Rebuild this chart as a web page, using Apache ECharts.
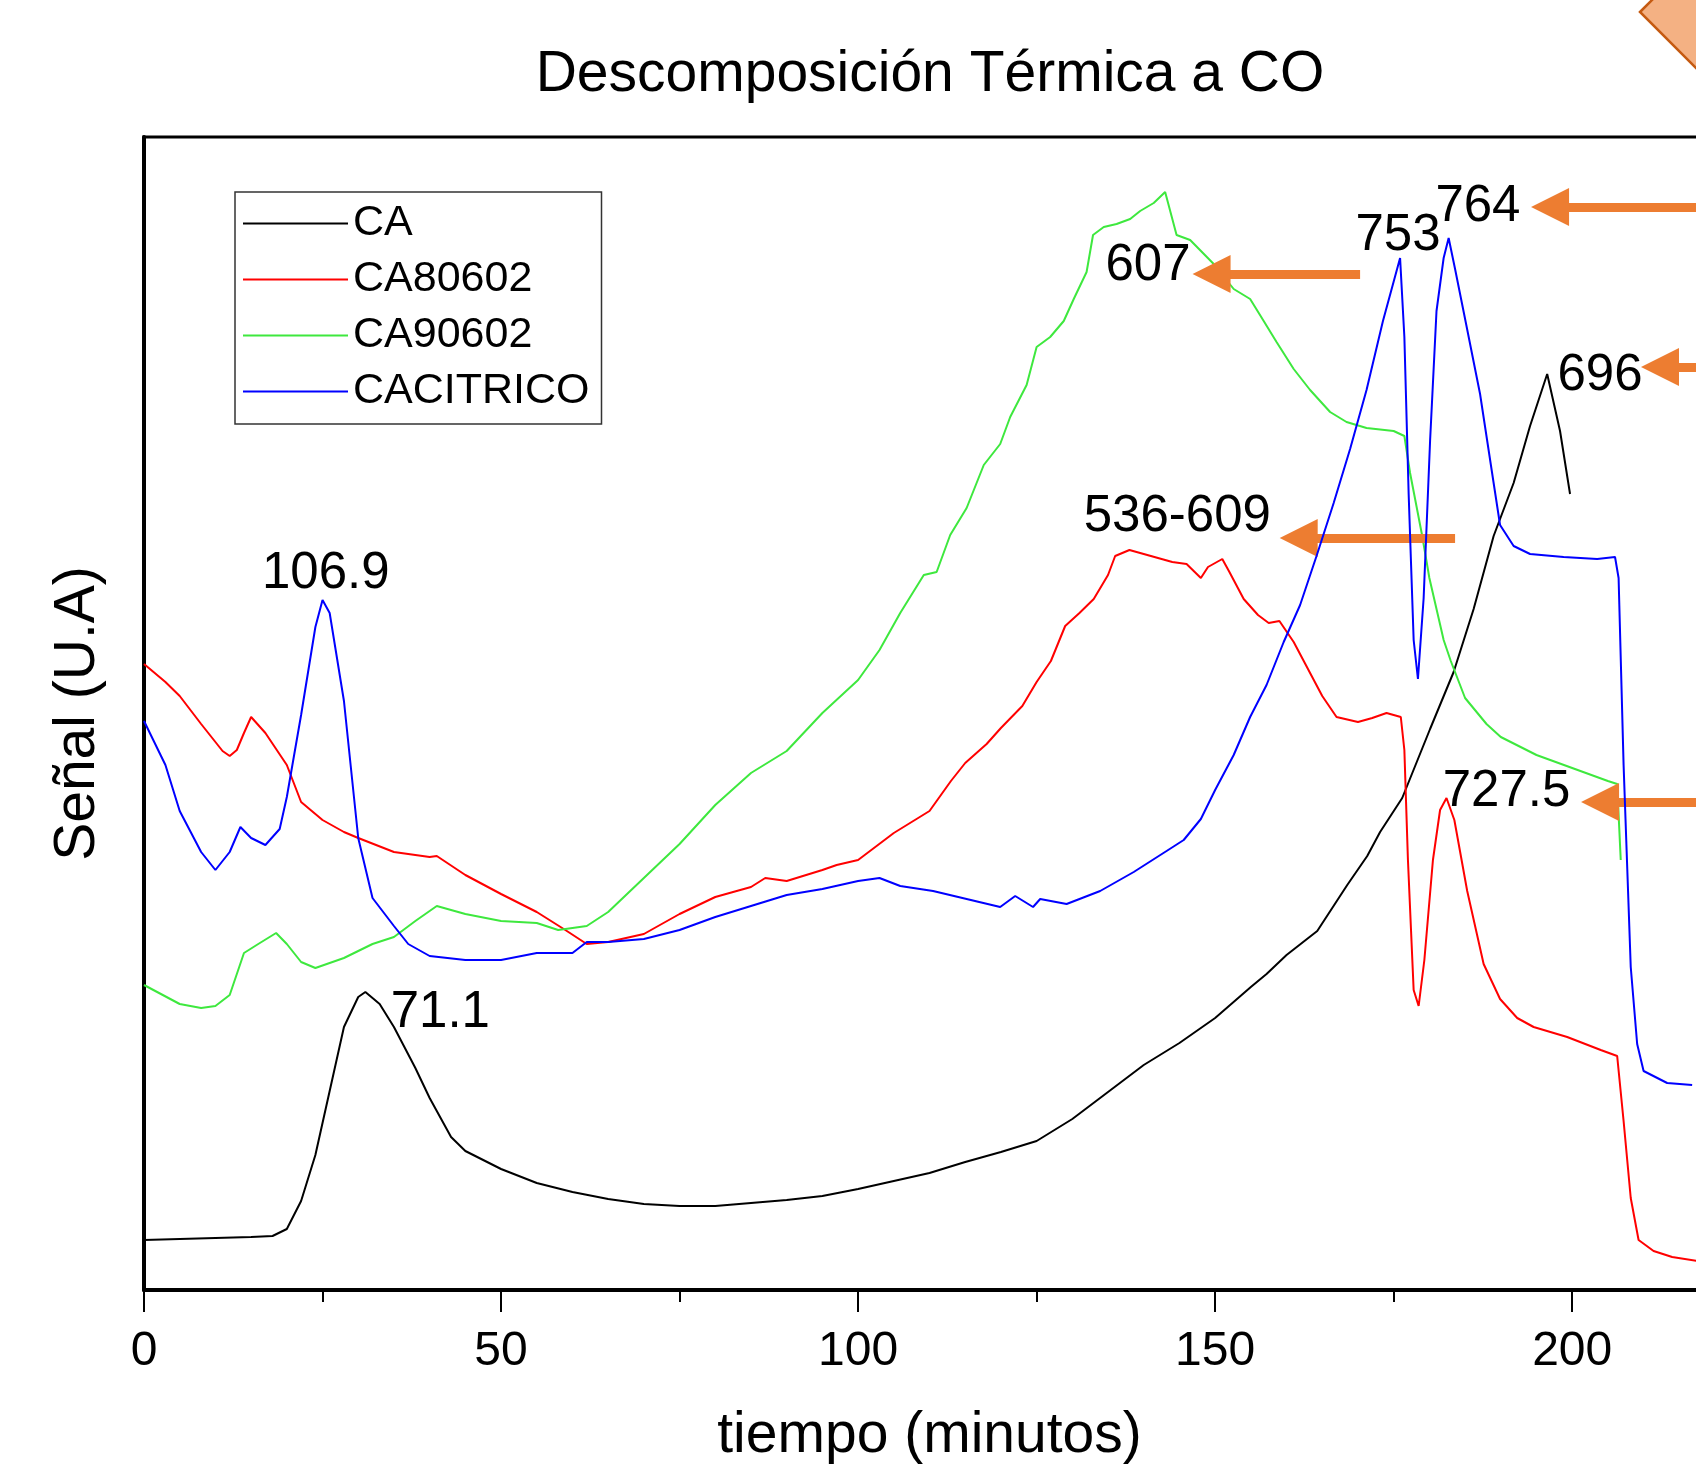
<!DOCTYPE html>
<html>
<head>
<meta charset="utf-8">
<script src="https://cdn.jsdelivr.net/npm/echarts@6/dist/echarts.min.js"></script>
<style>
html,body{margin:0;padding:0;background:#fff;}
#chart{width:1696px;height:1470px;}
</style>
</head>
<body>
<div id="chart"></div>
<script>
// ---- data (x: minutes, y: arbitrary signal units) ----
const seriesNames = ['CA', 'CA80602', 'CA90602', 'CACITRICO'];
const seriesColors = ['#000000', '#ff0000', '#3ee83e', '#0000ff'];

const CA = [
  [0,50],[5,51],[10,52],[15,53],[18,54],[20,61],[22,89],[24,135],[26,199],[28,263],[30,293],[31,298],
  [33,286],[35,263],[38,222],[40,192],[43,153],[45,139],[50,121],[55,107],[60,98],[65,91],[70,86],
  [75,84],[80,84],[85,87],[90,90],[95,94],[100,101],[105,109],[110,117],[115,128],[120,138],[125,149],
  [130,171],[135,198],[140,225],[145,247],[150,272],[155,303],[157.2,316],[160,335],[164.3,359],
  [168.5,405],[171.3,434],[173.1,458],[176.2,492],[180.1,561],[183.4,618],[186.2,681],[189,754],
  [191.8,807],[194.1,864],[196.5,916],[198.3,859],[199.7,796]
];

const CA80602 = [
  [0,626],[3,608],[5,594],[8,566],[11,539],[12,534],[13,540],[14,557],[15,573],[17,557],[20,525],
  [22,488],[25,470],[28,458],[30,452],[35,438],[40,433],[41,434],[45,415],[50,396],[55,378],[59,360],
  [62,346],[65,348],[70,356],[75,376],[80,393],[85,403],[87,412],[90,409],[95,420],[97,425],[100,430],
  [105,457],[110,479],[113,509],[115,527],[118,546],[120,562],[123,584],[125,608],[127,629],[129,664],
  [131,677],[133,691],[135,715],[136,734],[138,740],[141,734],[144,728],[146,726],[148,712],[149,723],
  [151,731],[152,718],[154,691],[156,675],[157.5,667],[159,669],[161,648],[163,621],[165,594],[167,573],
  [170,568],[172,572],[174,577],[176,573],[176.5,540],[177,430],[177.8,300],[178.5,284],[179.3,330],
  [180.5,430],[181.5,480],[182.4,492],[183.5,470],[185.3,399],[187.6,326],[189.9,291],[192.3,272],
  [194.6,263],[199.3,253],[204,240],[206.3,234],[207.2,169],[208.2,92],[209.3,50],[211.4,39],[214,33],
  [217.5,29]
];

const CA90602 = [
  [0,305],[5,286],[8,282],[10,284],[12,295],[14,337],[16,346],[18.5,357],[20,346],[22,328],[24,322],
  [28,332],[32,346],[35,353],[38,369],[41,384],[45,376],[50,369],[55,367],[58,360],[62,364],[65,378],
  [70,412],[75,446],[80,485],[85,517],[90,539],[95,577],[100,610],[103,640],[105.9,677],[109.2,715],
  [111,718],[112.9,755],[115.2,782],[117.6,825],[119.9,846],[121.3,873],[123.6,905],[125,943],
  [126.9,953],[128.8,969],[130.2,991],[132,1018],[132.9,1055],[134.4,1063],[136.2,1066],[138.1,1071],
  [139.5,1079],[141.4,1087],[143,1098],[144.6,1055],[146.5,1050],[149.8,1026],[152.6,1001],[154.9,991],
  [156.8,969],[158.6,948],[161,921],[163.3,900],[166.1,878],[168.4,868],[171.2,862],[175,859],
  [176.5,854],[177.3,817],[179,754],[180,712],[182,650],[183,629],[185,592],[188,566],[190,553],
  [195,535],[200,522],[205,509],[206.3,506],[206.8,430]
];

const CACITRICO = [
  [0,569],[3,525],[5,479],[8,438],[10,420],[12,438],[13.5,463],[15,452],[17,445],[19,461],[20,493],
  [22,575],[24,663],[25,690],[26,677],[28,589],[30,452],[32,392],[35,364],[37,346],[40,334],[45,330],
  [50,330],[55,337],[60,337],[62,348],[65,348],[70,351],[75,360],[80,373],[85,384],[90,395],[95,401],
  [100,409],[103,412],[105.9,404],[110.5,399],[115.2,391],[119.9,383],[122,394],[124.5,383],[125.5,391],
  [129.2,386],[133.9,399],[138.6,418],[143.2,439],[145.6,450],[148,471],[150,500],[152.6,535],
  [154.9,573],[157.2,605],[159.6,648],[161.9,685],[164.2,734],[166.6,787],[168.9,841],[171.2,900],
  [173.5,969],[175.9,1032],[176.5,953],[177.1,796],[177.8,650],[178.4,611],[179.2,692],[180.1,849],
  [181,979],[182,1032],[182.7,1052],[183.6,1021],[185.2,964],[187.1,896],[189,807],[189.9,765],
  [191.8,744],[194.1,736],[198.8,733],[203.5,731],[206,733],[206.5,712],[207.2,525],[208.2,323],
  [209.1,246],[210,219],[213.3,207],[216.8,205]
];

// peak annotations: [text, x (min), y]
const annotations = [
  ['106.9', 25.45, 716],
  ['71.1', 41.5, 277],
  ['607', 140.6, 1024],
  ['536-609', 144.7, 773],
  ['753', 175.6, 1054],
  ['764', 186.8, 1083],
  ['696', 203.9, 914],
  ['727.5', 190.8, 498]
];

// orange arrows: [tip x, tail x, y]
const arrows = [
  [146.9, 170.3, 1016],
  [159.1, 183.6, 752],
  [194.3, 220, 1083],
  [209.7, 220, 923],
  [201.3, 220, 488]
];

const xTickLabels = [0, 50, 100, 150, 200];

// ---- chart ----
const FONT = '"Liberation Sans", Arial, sans-serif';
const chart = echarts.init(document.getElementById('chart'), null, {renderer: 'canvas'});
const dataBySeries = [CA, CA80602, CA90602, CACITRICO];
const HEAD = 2.6; // half arrow-head length in minutes

const lineSeries = seriesNames.map((n, i) => ({
  name: n,
  type: 'line',
  data: dataBySeries[i],
  showSymbol: false,
  symbol: 'none',
  lineStyle: {color: seriesColors[i], width: 2},
  itemStyle: {color: seriesColors[i]},
  z: 2 + i,
  silent: true
}));

lineSeries.push({
  name: 'flechas',
  type: 'line',
  data: [],
  silent: true,
  z: 10,
  markLine: {
    silent: true,
    symbol: ['triangle', 'none'],
    symbolSize: 38,
    label: {show: false},
    itemStyle: {color: '#ED7D31'},
    lineStyle: {color: '#ED7D31', width: 9, type: 'solid', opacity: 1},
    emphasis: {disabled: true},
    data: arrows.map(a => [{coord: [a[0] + HEAD, a[2]]}, {coord: [a[1], a[2]]}])
  }
});

lineSeries.push({
  name: 'anotaciones',
  type: 'scatter',
  symbolSize: 0,
  silent: true,
  z: 11,
  itemStyle: {color: '#000', opacity: 1},
  data: annotations.map(a => ({name: a[0], value: [a[1], a[2]]})),
  label: {
    show: true, position: 'inside', formatter: '{b}',
    fontSize: 51, color: '#000', textBorderWidth: 0, fontFamily: FONT
  }
});

const option = {
  animation: false,
  backgroundColor: '#fff',
  graphic: [
    {
      type: 'polygon', z: 100,
      shape: {points: [[1640, 12], [1720, -68], [1800, 12], [1720, 92]]},
      style: {fill: '#F4B183', stroke: '#C55A11', lineWidth: 2.5}
    },
    {
      type: 'text', x: 930, y: 75, z: 100,
      style: {
        text: 'Descomposición Térmica a CO', fontSize: 57, fontFamily: FONT,
        fill: '#000', textAlign: 'center', textVerticalAlign: 'middle'
      }
    }
  ],
  legend: {
    orient: 'vertical',
    left: 235, top: 192,
    padding: [10, 12, 11, 8],
    itemWidth: 105, itemHeight: 2, itemGap: 13,
    icon: 'rect',
    borderColor: '#333', borderWidth: 1.5,
    backgroundColor: '#fff',
    textStyle: {fontSize: 43, lineHeight: 42, color: '#000', fontFamily: FONT},
    data: seriesNames,
    selectedMode: false
  },
  grid: {
    left: 144, width: 1571, top: 137, bottom: 180,
    show: true, borderColor: '#000', borderWidth: 3,
    containLabel: false,
    outerBoundsMode: 'none'
  },
  xAxis: [
    {
      type: 'value', min: 0, max: 220, interval: 50, position: 'bottom',
      name: 'tiempo (minutos)', nameLocation: 'middle', nameGap: 118,
      nameTextStyle: {fontSize: 57, color: '#000', fontFamily: FONT},
      axisLine: {show: true, onZero: false, lineStyle: {color: '#000', width: 4}},
      axisTick: {show: true, inside: false, length: 22, lineStyle: {color: '#000', width: 2}},
      axisLabel: {
        show: true, margin: 38, fontSize: 48, color: '#000', fontFamily: FONT,
        showMaxLabel: false,
        formatter: v => (xTickLabels.indexOf(v) >= 0 ? String(v) : '')
      },
      splitLine: {show: false}
    },
    {
      type: 'value', min: 0, max: 220, interval: 25, position: 'bottom',
      axisLine: {show: false, onZero: false},
      axisTick: {show: true, inside: false, length: 12, lineStyle: {color: '#000', width: 2}},
      axisLabel: {show: false},
      splitLine: {show: false}
    }
  ],
  yAxis: {
    type: 'value', min: 0, max: 1153,
    name: 'Señal (U.A)', nameLocation: 'middle', nameGap: 37, nameRotate: 90,
    nameTextStyle: {fontSize: 57, color: '#000', fontFamily: FONT},
    axisLine: {show: true, onZero: false, lineStyle: {color: '#000', width: 4}},
    axisTick: {show: false},
    axisLabel: {show: false},
    splitLine: {show: false}
  },
  series: lineSeries
};
chart.setOption(option);
</script>
</body>
</html>
